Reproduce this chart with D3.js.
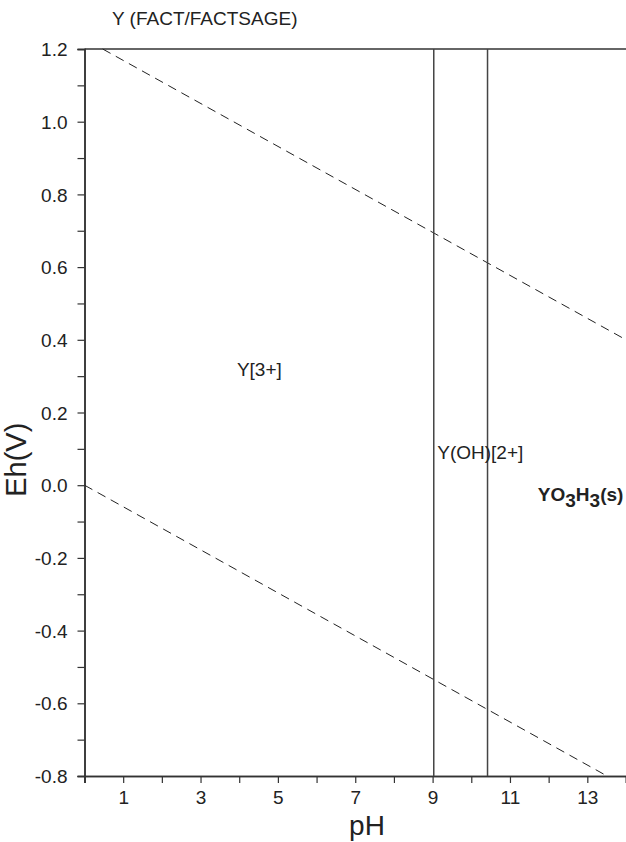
<!DOCTYPE html>
<html>
<head>
<meta charset="utf-8">
<script src="https://cdn.jsdelivr.net/npm/d3@7"></script>
<style>
  html, body { margin: 0; padding: 0; background: #fff; }
  svg { display: block; font-family: "Liberation Sans", Arial, sans-serif; }
</style>
</head>
<body>
<svg id="chart" width="626" height="842"></svg>
<script>
// ---- data ----
const title = "Y (FACT/FACTSAGE)";
const xMajorTicks = [1, 3, 5, 7, 9, 11, 13];
const xMinorTicks = [0, 2, 4, 6, 8, 10, 12, 14];
const yMajorTicks = [-0.8, -0.6, -0.4, -0.2, 0.0, 0.2, 0.4, 0.6, 0.8, 1.0, 1.2];
const yMinorTicks = [-0.7, -0.5, -0.3, -0.1, 0.1, 0.3, 0.5, 0.7, 0.9, 1.1];
const upperWater = [[0.47, 1.2], [14, 0.4]];
const lowerWater = [[0, 0.0], [13.51, -0.8]];
const boundaries = [9.03, 10.42];
const fieldLabels = [
  { text: "Y[3+]", pH: 3.94, eh: 0.30 },
  { text: "Y(OH)[2+]", pH: 9.12, eh: 0.072 }
];
const solidLabel = { pH: 11.72, eh: -0.043 };

// ---- layout ----
const svg = d3.select("#chart");
const x = d3.scaleLinear().domain([0, 14]).range([84.5, 626]);
const y = d3.scaleLinear().domain([-0.8, 1.2]).range([776, 49]);
const axisColor = "#333";
const fs = "19px";
const fmtY = d => d3.format(".1f")(d).replace("\u2212", "-");

// top frame line
svg.append("line")
  .attr("x1", x(0)).attr("x2", x(14)).attr("y1", y(1.2)).attr("y2", y(1.2))
  .attr("stroke", axisColor).attr("stroke-width", 1.5);

// axes
const xAxis = d3.axisBottom(x).tickValues(xMajorTicks).tickSize(7).tickPadding(8).tickFormat(d3.format("d"));
const gx = svg.append("g").attr("transform", `translate(0,${y(-0.8)})`).call(xAxis);
const xMinor = d3.axisBottom(x).tickValues(xMinorTicks).tickSize(7).tickFormat("");
const gx2 = svg.append("g").attr("transform", `translate(0,${y(-0.8)})`).call(xMinor);

const yAxis = d3.axisLeft(y).tickValues(yMajorTicks).tickSize(7).tickPadding(10).tickFormat(fmtY);
const gy = svg.append("g").attr("transform", `translate(${x(0)},0)`).call(yAxis);
const yMinor = d3.axisLeft(y).tickValues(yMinorTicks).tickSize(7).tickFormat("");
const gy2 = svg.append("g").attr("transform", `translate(${x(0)},0)`).call(yMinor);

[gx, gx2, gy, gy2].forEach(g => {
  g.select(".domain").attr("stroke", axisColor).attr("stroke-width", 1.5);
  g.selectAll(".tick line").attr("stroke", axisColor).attr("stroke-width", 1.2);
  g.selectAll(".tick text").attr("fill", "#222").style("font-size", fs)
    .style("font-family", '"Liberation Sans", Arial, sans-serif');
});
gy.selectAll(".tick text").attr("dy", "0.35em");

// water stability lines
const line = d3.line().x(d => x(d[0])).y(d => y(d[1]));
[upperWater, lowerWater].forEach(pts => {
  svg.append("path").attr("d", line(pts))
    .attr("fill", "none").attr("stroke", "#222").attr("stroke-width", 1)
    .attr("stroke-dasharray", "9,6");
});

// vertical boundaries
svg.selectAll(".vb").data(boundaries).enter().append("line")
  .attr("x1", d => x(d)).attr("x2", d => x(d))
  .attr("y1", y(1.2)).attr("y2", y(-0.8))
  .attr("stroke", "#444").attr("stroke-width", 1.5);

// title
svg.append("text").attr("x", 112).attr("y", 25)
  .style("font-size", fs).attr("fill", "#222").text(title);

// axis titles
svg.append("text").attr("x", 367).attr("y", 835).attr("text-anchor", "middle")
  .style("font-size", "28px").attr("fill", "#222").text("pH");
svg.append("text").attr("transform", `translate(26,${y(0.07)}) rotate(-90)`)
  .attr("text-anchor", "middle").style("font-size", "29px").attr("fill", "#222").text("Eh(V)");

// field labels
svg.selectAll(".fl").data(fieldLabels).enter().append("text")
  .attr("x", d => x(d.pH)).attr("y", d => y(d.eh))
  .style("font-size", fs).attr("fill", "#222").text(d => d.text);

// solid label with subscripts
const sl = svg.append("text").attr("x", x(solidLabel.pH)).attr("y", y(solidLabel.eh))
  .style("font-size", fs).style("font-weight", "bold").attr("fill", "#222");
sl.append("tspan").text("YO");
sl.append("tspan").attr("dy", 6).text("3");
sl.append("tspan").attr("dy", -6).text("H");
sl.append("tspan").attr("dy", 6).text("3");
sl.append("tspan").attr("dy", -6).text("(s)");
</script>
</body>
</html>
